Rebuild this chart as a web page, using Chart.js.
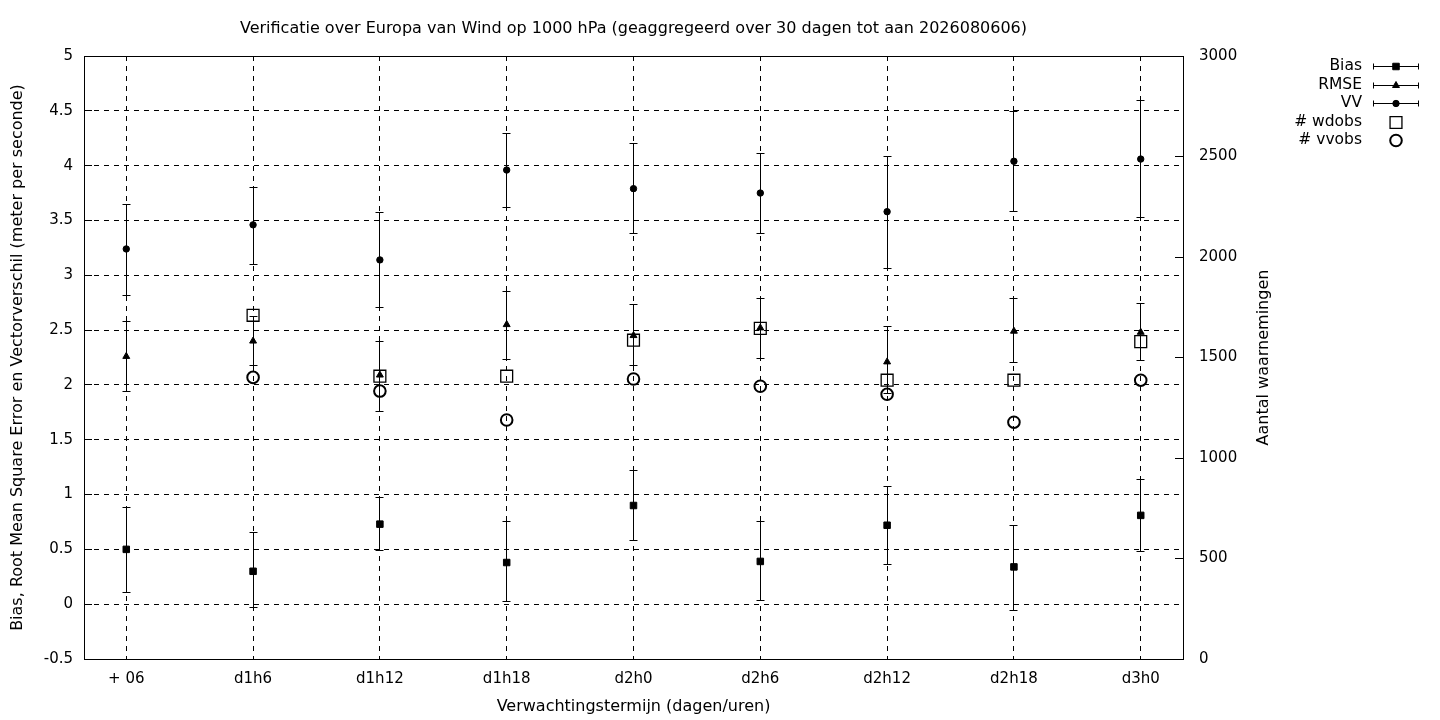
<!DOCTYPE html>
<html>
<head>
<meta charset="utf-8">
<script src="https://cdn.jsdelivr.net/npm/chart.js@4/dist/chart.umd.min.js"></script>
<style>
  html, body { margin: 0; padding: 0; background: #fff; }
  #wrap { width: 1440px; height: 720px; }
</style>
</head>
<body>
<div id="wrap"><canvas id="verif"></canvas></div>
<script>
var categories = ['+ 06', 'd1h6', 'd1h12', 'd1h18', 'd2h0', 'd2h6', 'd2h12', 'd2h18', 'd3h0'];

var bias   = [0.50, 0.30, 0.73, 0.38, 0.90, 0.39, 0.72, 0.34, 0.81];
var biasLo = [0.11, -0.03, 0.49, 0.02, 0.58, 0.03, 0.36, -0.06, 0.48];
var biasHi = [0.88, 0.65, 0.97, 0.75, 1.22, 0.75, 1.07, 0.72, 1.14];

var rmse   = [2.26, 2.40, 2.09, 2.55, 2.45, 2.52, 2.21, 2.49, 2.48];
var rmseLo = [1.94, 2.18, 1.76, 2.23, 2.18, 2.24, 1.92, 2.20, 2.22];
var rmseHi = [2.58, 2.62, 2.40, 2.85, 2.73, 2.79, 2.53, 2.79, 2.74];

var vv   = [3.24, 3.46, 3.14, 3.96, 3.79, 3.75, 3.58, 4.04, 4.06];
var vvLo = [2.82, 3.10, 2.71, 3.62, 3.38, 3.38, 3.06, 3.58, 3.53];
var vvHi = [3.65, 3.80, 3.57, 4.29, 4.20, 4.11, 4.08, 4.49, 4.59];

var wdobs = [null, 1710, 1407, 1407, 1586, 1645, 1387, 1387, 1579];
var vvobs = [null, 1401, 1333, 1189, 1393, 1357, 1317, 1178, 1387];

var leftTicks = [-0.5, 0, 0.5, 1, 1.5, 2, 2.5, 3, 3.5, 4, 4.5, 5];
var rightTicks = [0, 500, 1000, 1500, 2000, 2500, 3000];

var titleText = 'Verificatie over Europa van Wind op 1000 hPa (geaggregeerd over 30 dagen tot aan 2026080606)';
var y2Text = 'Aantal waarnemingen';

function pts(arr) {
    var out = [];
    for (var i = 0; i < arr.length; i++) {
        if (arr[i] !== null) out.push({x: i, y: arr[i]});
    }
    return out;
}

// same rounding as chart.js uses for grid lines
function align(px) {
    return Math.round(px - 0.5) + 0.5;
}

Chart.defaults.font.family = "'DejaVu Sans', sans-serif";
Chart.defaults.font.size = 15;
Chart.defaults.color = '#000';

var errSets = [
    {ds: 0, lo: biasLo, hi: biasHi},
    {ds: 1, lo: rmseLo, hi: rmseHi},
    {ds: 2, lo: vvLo, hi: vvHi}
];

// errorbars, frame, inward ticks, title, key
var gnuplotBits = {
    id: 'gnuplotBits',
    beforeDatasetsDraw: function (chart) {
        var ctx = chart.ctx, x = chart.scales.x, y = chart.scales.y;
        ctx.save();
        ctx.strokeStyle = '#000';
        ctx.lineWidth = 1;
        errSets.forEach(function (e) {
            for (var i = 0; i < e.lo.length; i++) {
                var px = align(x.getPixelForValue(i));
                var p1 = y.getPixelForValue(e.lo[i]);
                var p2 = y.getPixelForValue(e.hi[i]);
                ctx.beginPath();
                ctx.moveTo(px, p1); ctx.lineTo(px, p2);
                ctx.moveTo(px - 4, align(p1)); ctx.lineTo(px + 4, align(p1));
                ctx.moveTo(px - 4, align(p2)); ctx.lineTo(px + 4, align(p2));
                ctx.stroke();
            }
        });
        ctx.restore();
    },
    afterDraw: function (chart) {
        var ctx = chart.ctx, a = chart.chartArea;
        var y = chart.scales.y, y2 = chart.scales.y2;
        ctx.save();
        ctx.strokeStyle = '#000';
        ctx.lineWidth = 1;
        ctx.strokeRect(align(a.left), align(a.top),
            Math.round(a.right - a.left), Math.round(a.bottom - a.top));
        ctx.beginPath();
        leftTicks.forEach(function (v) {
            var py = align(y.getPixelForValue(v));
            ctx.moveTo(a.left, py); ctx.lineTo(a.left + 8, py);
        });
        rightTicks.forEach(function (v) {
            var py = align(y2.getPixelForValue(v));
            ctx.moveTo(a.right, py); ctx.lineTo(a.right - 8, py);
        });
        ctx.stroke();

        ctx.fillStyle = '#000';
        ctx.font = "16px 'DejaVu Sans', sans-serif";
        ctx.textAlign = 'center';
        ctx.textBaseline = 'middle';
        ctx.fillText(titleText, (a.left + a.right) / 2, 29);

        ctx.save();
        ctx.translate(1264, (a.top + a.bottom) / 2);
        ctx.rotate(-Math.PI / 2);
        ctx.fillText(y2Text, 0, 0);
        ctx.restore();

        // key
        ctx.font = "15.5px 'DejaVu Sans', sans-serif";
        var ds = chart.data.datasets;
        for (var i = 0; i < ds.length; i++) {
            var ly = 66 + i * 18.6;
            ctx.textAlign = 'right';
            ctx.fillStyle = '#000';
            ctx.fillText(ds[i].label, 1362, ly);
            var cy = Math.round(ly) + 0.5;
            if (i < 3) {
                ctx.beginPath();
                ctx.moveTo(1373, cy); ctx.lineTo(1419, cy);
                ctx.moveTo(1373.5, cy - 3); ctx.lineTo(1373.5, cy + 3);
                ctx.moveTo(1418.5, cy - 3); ctx.lineTo(1418.5, cy + 3);
                ctx.stroke();
            }
            ctx.fillStyle = ds[i].pointBackgroundColor;
            ctx.strokeStyle = '#000';
            ctx.lineWidth = ds[i].pointBorderWidth;
            Chart.helpers.drawPoint(ctx, {
                pointStyle: ds[i].pointStyle,
                radius: ds[i].pointRadius,
                rotation: 0,
                borderWidth: ds[i].pointBorderWidth
            }, 1396, cy);
            ctx.lineWidth = 1;
        }
        ctx.restore();
    }
};

var config = {
    type: 'scatter',
    data: {
        datasets: [{
            label: 'Bias',
            data: pts(bias),
            yAxisID: 'y',
            pointStyle: 'rect',
            pointRadius: 4.6,
            pointBackgroundColor: '#000',
            pointBorderColor: '#000',
            pointBorderWidth: 1
        }, {
            label: 'RMSE',
            data: pts(rmse),
            yAxisID: 'y',
            pointStyle: 'triangle',
            pointRadius: 4,
            pointBackgroundColor: '#000',
            pointBorderColor: '#000',
            pointBorderWidth: 1
        }, {
            label: 'VV',
            data: pts(vv),
            yAxisID: 'y',
            pointStyle: 'circle',
            pointRadius: 3.2,
            pointBackgroundColor: '#000',
            pointBorderColor: '#000',
            pointBorderWidth: 1
        }, {
            label: '# wdobs',
            data: pts(wdobs),
            yAxisID: 'y2',
            pointStyle: 'rect',
            pointRadius: 8.4,
            pointBackgroundColor: 'rgba(0,0,0,0)',
            pointBorderColor: '#000',
            pointBorderWidth: 1.3
        }, {
            label: '# vvobs',
            data: pts(vvobs),
            yAxisID: 'y2',
            pointStyle: 'circle',
            pointRadius: 5.8,
            pointBackgroundColor: 'rgba(0,0,0,0)',
            pointBorderColor: '#000',
            pointBorderWidth: 2
        }]
    },
    options: {
        responsive: true,
        maintainAspectRatio: false,
        animation: false,
        layout: { padding: { top: 56, left: 0, right: 157, bottom: 0 } },
        plugins: {
            legend: { display: false },
            tooltip: { enabled: false },
            title: { display: false }
        },
        scales: {
            x: {
                type: 'linear',
                min: -1 / 3,
                max: categories.length - 1 + 1 / 3,
                afterBuildTicks: function (s) {
                    s.ticks = categories.map(function (c, i) { return {value: i}; });
                },
                afterFit: function (s) { s.height = 61; },
                ticks: {
                    padding: 11.5,
                    maxRotation: 0,
                    autoSkip: false,
                    callback: function (v) { return categories[v]; }
                },
                grid: { color: '#000', lineWidth: 1, drawTicks: false },
                border: { display: false, dash: [5, 5] },
                title: {
                    display: true,
                    text: 'Verwachtingstermijn (dagen/uren)',
                    font: { size: 16 },
                    padding: { top: 0, bottom: 3.4 }
                }
            },
            y: {
                position: 'left',
                min: -0.5,
                max: 5,
                afterBuildTicks: function (s) {
                    s.ticks = leftTicks.map(function (v) { return {value: v}; });
                },
                afterFit: function (s) { s.width = 84; },
                ticks: {
                    padding: 11,
                    callback: function (v) { return String(v); }
                },
                grid: { color: '#000', lineWidth: 1, drawTicks: false },
                border: { display: false, dash: [5, 5] },
                title: {
                    display: true,
                    text: 'Bias, Root Mean Square Error en Vectorverschil (meter per seconde)',
                    font: { size: 16 },
                    padding: { top: 8.4, bottom: 0 }
                }
            },
            y2: {
                position: 'right',
                min: 0,
                max: 3000,
                afterBuildTicks: function (s) {
                    s.ticks = rightTicks.map(function (v) { return {value: v}; });
                },
                afterFit: function (s) { s.width = 100; },
                ticks: {
                    padding: 16,
                    callback: function (v) { return String(v); }
                },
                grid: { display: false, drawTicks: false },
                border: { display: false }
            }
        }
    },
    plugins: [gnuplotBits]
};

var verifChart = new Chart(document.getElementById('verif'), config);
</script>
</body>
</html>
